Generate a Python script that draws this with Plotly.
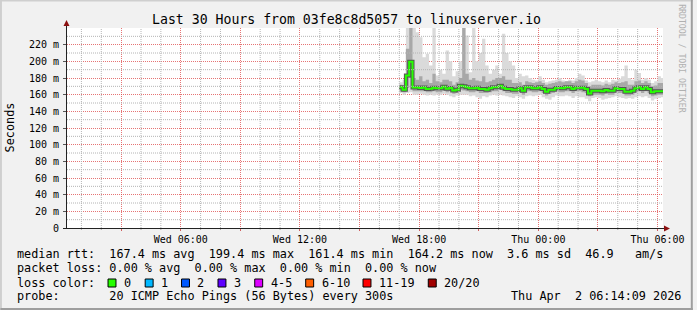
import plotly.graph_objects as go
import pandas as pd

# ---------------- data ----------------
times = pd.date_range("2026-04-01 17:00", periods=80, freq="10min")

median_ms = [169, 166, 183, 199.4, 168.5, 168.5, 168, 168.6, 166.8, 167,
             168.4, 167.6, 167.6, 169.6, 167, 168, 165, 166, 170.8, 170,
             168.8, 167.6, 167.6, 168.4, 166.8, 166.8, 166, 167.6, 168.8, 168.8,
             170.8, 168.4, 166.8, 166.8, 166, 166, 167.6, 164.8, 168.8, 168.8,
             167.6, 167.6, 168.8, 166.8, 163.6, 166, 166, 168, 168, 167.6,
             168.8, 168.8, 166.8, 168.4, 168.4, 168.4, 166.8, 161.4, 164.8, 164.8,
             164.8, 164, 165.6, 164.8, 164.8, 167.6, 166.8, 166.8, 163.6, 163.6,
             164.8, 167.6, 168.8, 166.8, 168.8, 166.8, 162.8, 164, 164.2, 164.2]

rtt_min = [162, 160, 162, 163, 160, 160, 161, 160, 159, 160,
           159, 160, 160, 161, 160, 158, 157, 159, 160, 160,
           160, 158, 159, 157, 155, 158, 157, 159, 160, 159,
           160, 159, 158, 157, 156, 158, 157, 155, 158, 159,
           158, 159, 160, 157, 155, 154, 157, 159, 158, 158,
           159, 158, 156, 158, 157, 157, 155, 152, 156, 157,
           156, 154, 155, 156, 157, 158, 157, 156, 155, 156,
           155, 157, 158, 157, 158, 156, 153, 155, 156, 157]

rtt_max = [175, 178, 240, 240, 240, 235, 229, 205, 209, 195,
           240, 183, 190, 185, 213, 200, 182, 188, 200, 240,
           231, 187, 240, 200, 210, 227, 195, 185, 190, 195,
           185, 233, 210, 200, 195, 180, 185, 182, 183, 180,
           178, 177, 182, 178, 175, 176, 177, 178, 180, 177,
           176, 178, 177, 180, 185, 183, 177, 175, 176, 178,
           176, 175, 177, 175, 178, 177, 179, 182, 195, 180,
           178, 190, 186, 178, 180, 178, 174, 176, 182, 180]

mid_lo = [165, 163, 168, 180, 164, 164, 164, 164, 163, 163,
          164, 163, 163, 165, 163, 164, 161, 162, 166, 165,
          164, 163, 163, 164, 162, 162, 162, 163, 164, 164,
          166, 164, 162, 162, 161, 161, 163, 160, 164, 164,
          163, 163, 164, 162, 159, 161, 162, 164, 163, 163,
          164, 164, 162, 164, 164, 163, 162, 158, 160, 160,
          160, 159, 161, 160, 160, 163, 162, 162, 159, 159,
          160, 163, 164, 162, 164, 162, 158, 159, 160, 160]

mid_hi = [172, 170, 215, 240, 180, 178, 182, 176, 178, 174,
          185, 176, 175, 178, 178, 176, 172, 175, 180, 240,
          185, 178, 180, 177, 176, 182, 175, 176, 178, 180,
          180, 182, 178, 178, 174, 174, 175, 172, 176, 175,
          174, 175, 176, 174, 172, 173, 174, 175, 176, 175,
          176, 176, 174, 176, 178, 177, 174, 170, 172, 172,
          172, 171, 173, 172, 173, 175, 174, 175, 176, 172,
          172, 176, 177, 174, 176, 174, 170, 171, 174, 174]

y_tickvals = [0, 20, 40, 60, 80, 100, 120, 140, 160, 180, 200, 220]
y_ticktext = ["0", "20 m", "40 m", "60 m", "80 m", "100 m", "120 m",
              "140 m", "160 m", "180 m", "200 m", "220 m"]
y_minor = [10, 30, 50, 70, 90, 110, 130, 150, 170, 190, 210, 230]

x_tickvals = ["2026-04-01 03:00", "2026-04-01 06:00", "2026-04-01 09:00",
              "2026-04-01 12:00", "2026-04-01 15:00", "2026-04-01 18:00",
              "2026-04-01 21:00", "2026-04-02 00:00", "2026-04-02 03:00",
              "2026-04-02 06:00"]
x_ticktext = ["", "Wed 06:00", "", "Wed 12:00", "", "Wed 18:00", "",
              "Thu 00:00", "", "Thu 06:00"]
x_minor = [t for t in pd.date_range("2026-04-01 01:00", "2026-04-02 05:00", freq="1h")
           if t.hour % 3 != 0]
x_range = ["2026-04-01 00:16:30", "2026-04-02 06:16:30"]

title_text = "Last 30 Hours from 03fe8c8d5057 to linuxserver.io"
row1 = "median rtt:  167.4 ms avg  199.4 ms max  161.4 ms min  164.2 ms now  3.6 ms sd  46.9   am/s"
row2 = "packet loss: 0.00 % avg  0.00 % max  0.00 % min  0.00 % now"
row3_label = "loss color:"
loss_labels = ["0", "1", "2", "3", "4-5", "6-10", "11-19", "20/20"]
loss_colors = ["#26ff00", "#00b8ff", "#0059ff", "#5e00ff", "#dd00ff",
               "#ff5e00", "#ff0000", "#a10000"]
row4 = "probe:       20 ICMP Echo Pings (56 Bytes) every 300s"
row4_right = "Thu Apr  2 06:14:09 2026"

# ---------------- layout helpers ----------------
W, H = 697, 310
L, R, T, B = 67, 30, 28, 82
PW, PH = W - L - R, H - T - B


def px(x):
    return (x - L) / PW


def py(y):
    return (H - B - y) / PH


def nb(s):
    return s.replace(" ", "\u00a0")


MONO = "DejaVu Sans Mono"

xs = list(times) + [times[-1] + pd.Timedelta("10min")]


def ext(v):
    return list(v) + [v[-1]]


fig = go.Figure()
fig.add_trace(go.Scatter(x=xs, y=ext(rtt_min), mode="lines", line=dict(width=0, shape="hv"),
                         hoverinfo="skip", showlegend=False))
fig.add_trace(go.Scatter(x=xs, y=ext(rtt_max), mode="lines", line=dict(width=0, shape="hv"),
                         fill="tonexty", fillcolor="#dadada", hoverinfo="skip", showlegend=False))
fig.add_trace(go.Scatter(x=xs, y=ext(mid_lo), mode="lines", line=dict(width=0, shape="hv"),
                         hoverinfo="skip", showlegend=False))
fig.add_trace(go.Scatter(x=xs, y=ext(mid_hi), mode="lines", line=dict(width=0, shape="hv"),
                         fill="tonexty", fillcolor="#a8a8a8", hoverinfo="skip", showlegend=False))
fig.add_trace(go.Scatter(x=xs, y=ext(median_ms), mode="lines",
                         line=dict(width=4, shape="hv", color="#555555"),
                         hoverinfo="skip", showlegend=False))
fig.add_trace(go.Scatter(x=xs, y=ext(median_ms), mode="lines",
                         line=dict(width=2, shape="hv", color="#26ff00"),
                         hoverinfo="skip", showlegend=False))

grid_major = "rgba(222,70,70,0.75)"
grid_minor = "#b4b4b4"

fig.update_layout(
    xaxis=dict(type="date", range=x_range, tickmode="array", tickvals=x_tickvals,
               ticktext=x_ticktext, showgrid=True, gridcolor=grid_major,
               griddash="1px,1px", gridwidth=1, ticks="outside", ticklen=2,
               tickcolor="#d06060",
               tickfont=dict(family=MONO, size=10, color="#000"), zeroline=False,
               showline=False, fixedrange=True),
    yaxis=dict(range=[0, 240], tickmode="array", tickvals=y_tickvals, ticktext=y_ticktext,
               showgrid=True, gridcolor=grid_major, griddash="1px,1px", gridwidth=1,
               ticks="outside", ticklen=3, tickcolor="#555",
               ticklabelstandoff=2,
               tickfont=dict(family=MONO, size=10, color="#000"), zeroline=False,
               showline=False, fixedrange=True),
)

shapes = []
# minor grid drawn on top of the smoke, like rrdtool
for t in x_minor:
    shapes.append(dict(type="line", xref="x", yref="paper", x0=t, x1=t, y0=0, y1=1,
                       layer="above", line=dict(color=grid_minor, width=1, dash="1px,1px")))
    shapes.append(dict(type="line", xref="x", yref="paper", x0=t, x1=t, y0=0, y1=-0.01,
                       layer="above", line=dict(color="#aaaaaa", width=1)))
for v in y_minor:
    shapes.append(dict(type="line", xref="paper", yref="y", x0=0, x1=1, y0=v, y1=v,
                       layer="above", line=dict(color=grid_minor, width=1, dash="1px,1px")))

shapes.append(dict(type="line", xref="paper", yref="paper", x0=px(66.5), x1=px(66.5),
                   y0=py(228), y1=py(22), line=dict(color="#222", width=1)))
shapes.append(dict(type="line", xref="paper", yref="paper", x0=px(63), x1=px(670),
                   y0=py(228.5), y1=py(228.5), line=dict(color="#222", width=1)))
shapes.append(dict(type="path", xref="paper", yref="paper",
                   path=f"M {px(63.5)} {py(26)} L {px(69.5)} {py(26)} L {px(66.5)} {py(20)} Z",
                   fillcolor="#8b1010", line=dict(width=0)))
shapes.append(dict(type="path", xref="paper", yref="paper",
                   path=f"M {px(668)} {py(225.5)} L {px(668)} {py(231.5)} L {px(674)} {py(228.5)} Z",
                   fillcolor="#8b1010", line=dict(width=0)))
shapes.append(dict(type="line", xref="paper", yref="paper", x0=px(0), x1=px(697),
                   y0=py(0.5), y1=py(0.5), line=dict(color="#cfcfcf", width=2)))
shapes.append(dict(type="line", xref="paper", yref="paper", x0=px(0.5), x1=px(0.5),
                   y0=py(0), y1=py(310), line=dict(color="#cfcfcf", width=2)))
shapes.append(dict(type="line", xref="paper", yref="paper", x0=px(0), x1=px(697),
                   y0=py(309), y1=py(309), line=dict(color="#9e9e9e", width=2)))
shapes.append(dict(type="line", xref="paper", yref="paper", x0=px(696), x1=px(696),
                   y0=py(0), y1=py(310), line=dict(color="#9e9e9e", width=2)))

annotations = []


def text(x, y, s, size=11.8, anchor="left", color="#000", angle=0):
    annotations.append(dict(x=px(x), y=py(y), xref="paper", yref="paper", text=nb(s),
                            showarrow=False, xanchor=anchor, yanchor="middle",
                            textangle=angle, borderpad=0,
                            font=dict(family=MONO, size=size, color=color)))


text(348.5, 19.5, title_text, size=13.2, anchor="center")
text(10, 127, "Seconds", size=11.8, anchor="center", angle=-90)
text(686, 59, "RRDTOOL / TOBI OETIKER", size=8.2, anchor="center", color="#b0b0b0", angle=90)
text(16, 254, row1)
text(16, 268, row2)
text(16, 282.5, row3_label)
text(16, 296, row4)
text(513, 296, row4_right)

box_lefts = [108.3, 145.7, 182.3, 219, 256, 307.3, 365, 430.7]
for bx, lab, col in zip(box_lefts, loss_labels, loss_colors):
    shapes.append(dict(type="rect", xref="paper", yref="paper", x0=px(bx), x1=px(bx + 8),
                       y0=py(287), y1=py(279), fillcolor=col, line=dict(color="#000", width=1)))
    text(bx + 15, 282.5, lab)

fig.update_layout(width=W, height=H, margin=dict(l=L, r=R, t=T, b=B, pad=0),
                  paper_bgcolor="#f1f1f1", plot_bgcolor="#ffffff",
                  shapes=shapes, annotations=annotations, showlegend=False,
                  font=dict(family=MONO))

fig.write_html("out.html")
